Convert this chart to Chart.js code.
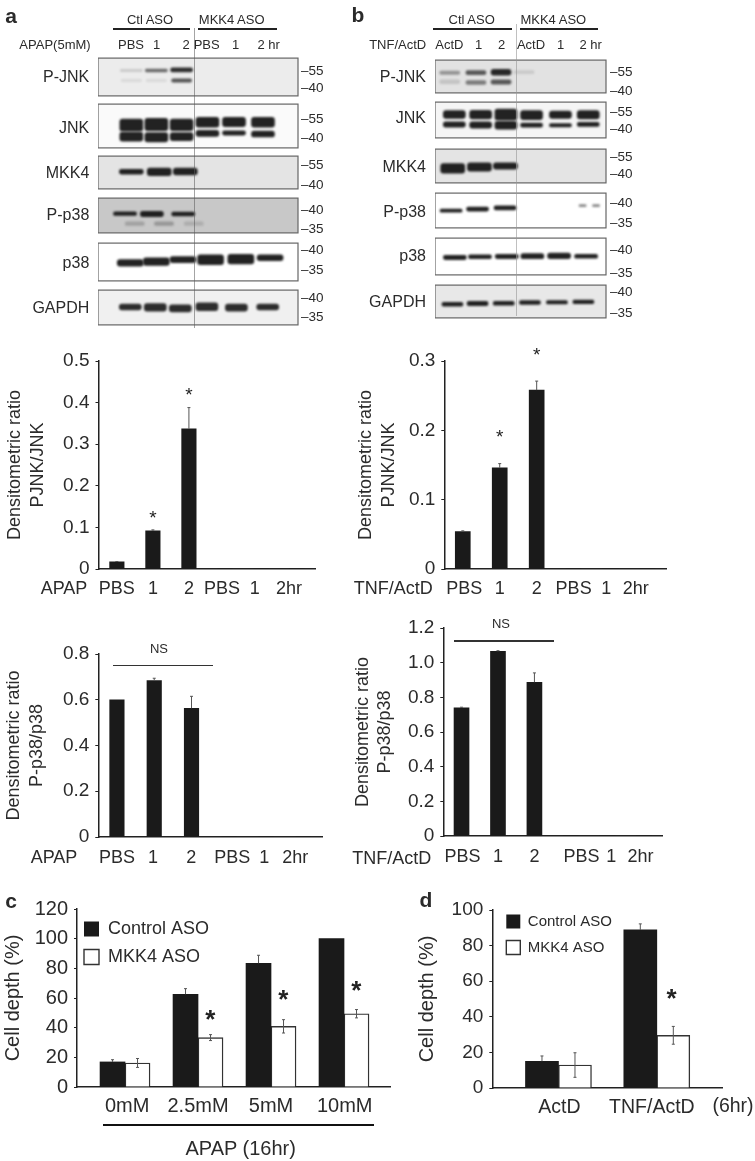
<!DOCTYPE html>
<html>
<head>
<meta charset="utf-8">
<title>MKK4 ASO blots and densitometry</title>
<script src="https://cdn.jsdelivr.net/npm/chart.js@4"></script>
<style>
  body { margin: 0; background: #fff; width: 755px; height: 1161px; position: relative; overflow: hidden; font-family: "Liberation Sans", sans-serif; }
  canvas { position: absolute; filter: blur(0.35px); }
  .lbl { position: absolute; white-space: nowrap; color: #2b2b2b; line-height: 1; transform: translate(-50%, -50%); filter: blur(0.3px); }
  .lbl.right { transform: translate(-100%, -50%); }
  .rule { position: absolute; }
</style>
</head>
<body>
<script>
// ---- densitometry bars ----
const pjnkApapValues = [0.017, 0.092, 0.337, 0, 0, 0];
const pjnkApapErrors = [0.001, 0.002, 0.051, 0, 0, 0];
const pjnkApapStars = [null, 0.127, 0.423, null, null, null];
const pjnkTnfValues = [0.054, 0.146, 0.258, 0, 0, 0];
const pjnkTnfErrors = [0.001, 0.006, 0.013, 0, 0, 0];
const pjnkTnfStars = [null, 0.193, 0.312, null, null, null];
const p38ApapValues = [0.6, 0.684, 0.563, 0, 0, 0];
const p38ApapErrors = [0, 0.01, 0.052, 0, 0, 0];
const p38TnfValues = [0.74, 1.066, 0.887, 0, 0, 0];
const p38TnfErrors = [0.003, 0.003, 0.054, 0, 0, 0];
const apapLabels = ['PBS', '1', '2', 'PBS', '1', '2hr'];

// ---- panel c / d ----
const doseLabels = ['0mM', '2.5mM', '5mM', '10mM'];
const doseControl = [16.9, 62.5, 83.4, 100];
const doseControlErr = [1.5, 3.8, 5.4, 0];
const doseMkk4 = [16.2, 33.3, 40.9, 49.4];
const doseMkk4Err = [3, 2, 4.5, 2.8];
const doseStars = [null, 47.4, 60.7, 66.7];
const tnfLabels = ['ActD', 'TNF/ActD'];
const tnfControl = [15, 88.8];
const tnfControlErr = [3, 3.4];
const tnfMkk4 = [12.9, 29.6];
const tnfMkk4Err = [6.9, 5];
const tnfStars = [null, 51.7];

// ---- blot bands, kDa range per lane and density ----
const lanesA = [0, 0.95, 1.91, 2.89, 3.9, 5];
const aPjnkUpper = [[56.3, 54.7], [56.8, 54.2], [57.8, 54.2]];
const aPjnkUpperD = [0.18, 0.6, 0.88];
const aPjnkLower = [[47.5, 46], [47.5, 46], [48.3, 45.2]];
const aPjnkLowerD = [0.1, 0.1, 0.7];
const aJnkUpper = [[55.5, 46], [56, 46.4], [55.5, 46.4], [56.7, 49], [56.7, 49.5], [56.7, 49]];
const aJnkLower = [[45.2, 38.1], [44.8, 37.6], [44.8, 38.6], [46.7, 41.9], [46.2, 42.9], [46, 41.4]];
const aMkk4Lanes = [0, 1.06, 2.05];
const aMkk4 = [[52.1, 48.5], [53.2, 47.2], [53.2, 47.8]];
const aPp38Lanes = [-0.24, 0.78, 1.97];
const aPp38 = [[39.7, 38.7], [39.8, 38.4], [39.6, 38.6]];
const aPp38FaintLanes = [0.13, 1.24, 2.37];
const aPp38Faint = [[37, 36], [37, 36], [37, 36]];
const aPp38FaintD = [0.22, 0.28, 0.15];
const aP38Lanes = [-0.04, 0.95, 1.96, 3.01, 4.16, 5.27];
const aP38 = [[37.8, 36.1], [38.2, 36.3], [38.5, 37], [39, 36.5], [39.1, 36.7], [39, 37.5]];
const aGapdhLanes = [-0.04, 0.91, 1.86, 2.87, 3.99, 5.18];
const aGapdh = [[38.5, 37], [38.6, 36.7], [38.3, 36.5], [38.8, 36.8], [38.5, 36.7], [38.5, 37]];

const lanesB = [0, 0.975, 1.91, 2.86, 3.93, 4.96];
const bPjnkLanes = [-0.17, 0.8, 1.73, 2.58];
const bPjnkUpper = [[55.7, 53], [56.1, 52.8], [57, 52.4], [56.1, 53.5]];
const bPjnkUpperD = [0.38, 0.68, 0.92, 0.12];
const bPjnkLower = [[48.8, 45.7], [48.2, 45.1], [48.8, 45.3]];
const bPjnkLowerD = [0.15, 0.5, 0.68];
const bJnkUpper = [[56.75, 49.75], [57, 49.25], [58, 48.25], [56.75, 48.75], [56.25, 49.75], [56.75, 49.25]];
const bJnkLower = [[46.75, 42], [46.75, 41.25], [47.25, 40.25], [45.75, 42], [45.25, 42.25], [46.25, 42.75]];
const bMkk4Lanes = [-0.06, 0.93, 1.89];
const bMkk4 = [[49.4, 41.2], [49.9, 42.9], [49.9, 44.6]];
const bPp38Lanes = [-0.12, 0.86, 1.88];
const bPp38 = [[38.5, 37.7], [39, 38], [39.3, 38.3]];
const bPp38DashLanes = [4.75, 5.25];
const bPp38Dash = [[39.6, 39.1], [39.6, 39.1]];
const bP38Lanes = [0.02, 0.95, 1.94, 2.89, 3.88, 4.88];
const bP38 = [[38.9, 38], [39, 38.2], [39.1, 38.2], [39.3, 38.2], [39.4, 38.2], [39.1, 38.3]];
const bGapdhLanes = [-0.07, 0.86, 1.83, 2.8, 3.8, 4.78];
const bGapdh = [[37.7, 36.8], [37.9, 36.9], [37.9, 37], [38.1, 37.2], [38.1, 37.3], [38.2, 37.4]];

const INK = '#2b2b2b';
const FONT = '"Liberation Sans", sans-serif';
Chart.defaults.animation = false;
Chart.defaults.font.family = FONT;
Chart.defaults.color = INK;

function addCanvas(left, top, width, height) {
  const c = document.createElement('canvas');
  c.width = width;
  c.height = height;
  c.style.left = left + 'px';
  c.style.top = top + 'px';
  document.body.appendChild(c);
  return c;
}

function label(str, x, y, size, opts = {}) {
  const el = document.createElement('div');
  el.className = 'lbl' + (opts.right ? ' right' : '');
  el.textContent = str;
  el.style.left = x + 'px';
  el.style.top = y + 'px';
  el.style.fontSize = size + 'px';
  if (opts.bold) el.style.fontWeight = 'bold';
  document.body.appendChild(el);
}

function rule(x1, y1, x2, y2, color, w) {
  const el = document.createElement('div');
  el.className = 'rule';
  el.style.left = x1 + 'px';
  el.style.top = (y1 - w / 2) + 'px';
  el.style.width = Math.max(x2 - x1, w) + 'px';
  el.style.height = Math.max(y2 - y1, w) + 'px';
  el.style.background = color;
  document.body.appendChild(el);
}

const errorBars = {
  id: 'errorBars',
  afterDatasetsDraw(chart) {
    const { ctx } = chart;
    const y = chart.scales.y;
    chart.data.datasets.forEach((ds, i) => {
      if (!ds.errors) return;
      chart.getDatasetMeta(i).data.forEach((bar, k) => {
        const e = ds.errors[k];
        if (!e) return;
        const v = ds.data[k].y;
        const hi = y.getPixelForValue(v + e);
        const lo = ds.errorsBelow ? y.getPixelForValue(v - e) : bar.y;
        ctx.save();
        ctx.strokeStyle = '#555';
        ctx.lineWidth = 1;
        ctx.beginPath();
        ctx.moveTo(bar.x, hi);
        ctx.lineTo(bar.x, lo);
        ctx.moveTo(bar.x - 1.5, hi);
        ctx.lineTo(bar.x + 1.5, hi);
        if (ds.errorsBelow) {
          ctx.moveTo(bar.x - 1.5, lo);
          ctx.lineTo(bar.x + 1.5, lo);
        }
        ctx.stroke();
        ctx.restore();
      });
    });
  }
};

const starMarks = {
  id: 'starMarks',
  afterDraw(chart, args, opts) {
    if (!opts.levels) return;
    const { ctx, scales } = chart;
    ctx.save();
    ctx.font = opts.font;
    ctx.fillStyle = '#222';
    ctx.textAlign = 'center';
    ctx.textBaseline = 'alphabetic';
    opts.levels.forEach((lvl, i) => {
      if (lvl === null) return;
      ctx.fillText('*', scales.x.getPixelForValue(i + opts.shift), scales.y.getPixelForValue(lvl) + opts.size * 0.42);
    });
    ctx.restore();
  }
};

const legendNudge = {
  id: 'legendNudge',
  afterLayout(chart, args, opts) {
    if (!opts.dx && !opts.dy) return;
    chart.legend.left += opts.dx;
    chart.legend.top += opts.dy;
  }
};

// bars on a linear x axis so tick labels can sit where the figure put them
function barChart(cfg) {
  const { plot, originX } = cfg;
  const top = plot.t - 24;
  const bottom = plot.b + 36;
  const right = Math.min(plot.r + 12, 755);
  const canvas = addCanvas(originX, top, right - originX, bottom - top);
  return new Chart(canvas, {
    type: 'bar',
    data: { datasets: cfg.datasets },
    options: {
      responsive: false,
      layout: { padding: { left: 0, top: plot.t - top, right: right - plot.r, bottom: 0 } },
      plugins: {
        legend: cfg.legend || { display: false },
        tooltip: { enabled: false },
        starMarks: cfg.stars || {},
        legendNudge: cfg.nudge || {}
      },
      scales: {
        x: {
          type: 'linear',
          offset: false,
          min: cfg.xMin,
          max: cfg.xMax,
          grid: { display: false, offset: false },
          border: { color: '#222', width: 1.5 },
          afterBuildTicks: ax => { ax.ticks = cfg.tickAt.map(value => ({ value })); },
          afterFit: ax => { ax.height = bottom - plot.b; },
          ticks: {
            autoSkip: false,
            maxRotation: 0,
            padding: cfg.xPad,
            font: { size: cfg.xFont },
            color: INK,
            callback: (v, i) => cfg.labels[i]
          }
        },
        y: {
          min: 0,
          max: cfg.yMax,
          grid: { display: true, drawOnChartArea: false, drawTicks: true, tickLength: 3, color: '#222' },
          border: { color: '#222', width: 1.5 },
          afterFit: ax => { ax.width = plot.l - originX; },
          ticks: {
            stepSize: cfg.yStep,
            padding: 6,
            font: { size: cfg.yFont },
            color: INK,
            callback: cfg.yFormat
          },
          title: {
            display: true,
            text: cfg.title,
            font: { size: cfg.titleFont, lineHeight: cfg.titleLine },
            color: INK,
            padding: { top: cfg.titlePad, bottom: 0 }
          }
        }
      }
    },
    plugins: [errorBars, starMarks, legendNudge]
  });
}

function singleSeries(values, errors, width) {
  return [{
    data: values.map((y, x) => ({ x, y })),
    errors,
    backgroundColor: '#1a1a1a',
    barThickness: width
  }];
}

const oneDecimal = v => (v === 0 ? '0' : v.toFixed(1));

barChart({
  originX: 0, plot: { l: 98.5, t: 361, r: 315, b: 569 },
  xMin: -0.51, xMax: 5.5, tickAt: [0, 1, 2, 2.92, 3.83, 4.78], labels: apapLabels,
  xPad: 1, xFont: 18, yMax: 0.5, yStep: 0.1, yFont: 19, yFormat: oneDecimal,
  title: ['Densitometric ratio', 'PJNK/JNK'], titleFont: 18, titleLine: 1.28, titlePad: 3.5,
  datasets: singleSeries(pjnkApapValues, pjnkApapErrors, 14.5),
  stars: { levels: pjnkApapStars, font: '19px ' + FONT, size: 19, shift: 0 }
});
barChart({
  originX: 350, plot: { l: 444.3, t: 361, r: 666, b: 569 },
  xMin: -0.5, xMax: 5.5, tickAt: [0.04, 1, 2, 3, 3.88, 4.68], labels: apapLabels,
  xPad: 1, xFont: 18, yMax: 0.3, yStep: 0.1, yFont: 19, yFormat: oneDecimal,
  title: ['Densitometric ratio', 'PJNK/JNK'], titleFont: 18, titleLine: 1.28, titlePad: 4.5,
  datasets: singleSeries(pjnkTnfValues, pjnkTnfErrors, 15),
  stars: { levels: pjnkTnfStars, font: '19px ' + FONT, size: 19, shift: 0 }
});
barChart({
  originX: 0, plot: { l: 98.3, t: 654.3, r: 322, b: 837.7 },
  xMin: -0.5, xMax: 5.5, tickAt: [0, 0.97, 1.99, 3.09, 3.95, 4.78], labels: apapLabels,
  xPad: 2, xFont: 18, yMax: 0.8, yStep: 0.2, yFont: 19, yFormat: oneDecimal,
  title: ['Densitometric ratio', 'P-p38/p38'], titleFont: 18, titleLine: 1.28, titlePad: 2.5,
  datasets: singleSeries(p38ApapValues, p38ApapErrors, 14.5)
});
barChart({
  originX: 350, plot: { l: 443.3, t: 628.3, r: 662.3, b: 837 },
  xMin: -0.5, xMax: 5.5, tickAt: [0.03, 1, 2, 3.29, 4.11, 4.91], labels: apapLabels,
  xPad: 2, xFont: 18, yMax: 1.2, yStep: 0.2, yFont: 19, yFormat: oneDecimal,
  title: ['Densitometric ratio', 'P-p38/p38'], titleFont: 18, titleLine: 1.22, titlePad: 2,
  datasets: singleSeries(p38TnfValues, p38TnfErrors, 15)
});

function groupedSeries(values, errors, name, fill, stroke, below, width) {
  return {
    label: name,
    data: values.map((y, x) => ({ x, y })),
    errors,
    errorsBelow: below,
    backgroundColor: fill,
    borderColor: stroke,
    borderWidth: fill === '#fff' ? 1.4 : 0,
    borderSkipped: 'bottom',
    barThickness: width
  };
}

barChart({
  originX: 0, plot: { l: 77, t: 909, r: 390, b: 1087 },
  xMin: -0.658, xMax: 3.63, tickAt: [0.03, 1, 2, 3.01], labels: doseLabels,
  xPad: -1, xFont: 20, yMax: 120, yStep: 20, yFont: 20, yFormat: v => String(v),
  title: 'Cell depth (%)', titleFont: 20, titleLine: 1.2, titlePad: 1,
  datasets: [
    groupedSeries(doseControl, doseControlErr, 'Control ASO', '#1a1a1a', '#1a1a1a', false, 25),
    groupedSeries(doseMkk4, doseMkk4Err, 'MKK4 ASO', '#fff', '#333', true, 25)
  ],
  legend: { position: 'chartArea', align: 'start', labels: { boxWidth: 15, boxHeight: 15, padding: 10, font: { size: 18 }, color: INK } },
  nudge: { dx: -3, dy: 25 },
  stars: { levels: doseStars, font: 'bold 26px ' + FONT, size: 26, shift: 0.17 }
});
barChart({
  originX: 400, plot: { l: 492.3, t: 910, r: 722.7, b: 1088 },
  xMin: -0.673, xMax: 1.663, tickAt: [0.01, 0.95], labels: tnfLabels,
  xPad: 0, xFont: 19.5, yMax: 100, yStep: 20, yFont: 19, yFormat: v => String(v),
  title: 'Cell depth (%)', titleFont: 20, titleLine: 1.2, titlePad: 15.5,
  datasets: [
    groupedSeries(tnfControl, tnfControlErr, 'Control ASO', '#1a1a1a', '#1a1a1a', false, 33),
    groupedSeries(tnfMkk4, tnfMkk4Err, 'MKK4 ASO', '#fff', '#333', true, 33)
  ],
  legend: { position: 'chartArea', align: 'start', labels: { boxWidth: 14, boxHeight: 14, padding: 11, font: { size: 15 }, color: INK } },
  nudge: { dx: 3, dy: 17 },
  stars: { levels: tnfStars, font: 'bold 26px ' + FONT, size: 26, shift: 0.15 }
});

// ---- western blot strips ----
const stripLook = {
  id: 'stripLook',
  beforeDraw(chart, args, opts) {
    const { ctx, chartArea: a } = chart;
    ctx.save();
    ctx.fillStyle = opts.bg;
    ctx.fillRect(a.left, a.top, a.width, a.height);
    ctx.restore();
  },
  beforeDatasetsDraw(chart) { chart.ctx.save(); chart.ctx.filter = 'blur(1.1px)'; },
  afterDatasetsDraw(chart) { chart.ctx.restore(); },
  afterDraw(chart) {
    const { ctx, chartArea: a } = chart;
    ctx.save();
    ctx.strokeStyle = '#666';
    ctx.lineWidth = 1.2;
    ctx.strokeRect(a.left, a.top, a.width, a.height);
    ctx.restore();
  }
};

function band(lanes, ranges, density, width) {
  return {
    data: ranges.map((y, i) => ({ x: lanes[i], y })),
    backgroundColor: ranges.map((r, i) => `rgba(22,22,22,${density ? density[i] : 0.95})`),
    barThickness: width,
    borderRadius: 3,
    borderSkipped: false,
    grouped: false
  };
}

function strip(frame, s) {
  const margin = 9;
  const left = frame.l;
  const right = frame.r + 30;
  const top = s.t - margin;
  const height = s.b - s.t + margin * 2;
  const canvas = addCanvas(left, top, right - left, height);
  const perPx = (s.kda[0] - s.kda[1]) / (s.tickY[1] - s.tickY[0]);
  new Chart(canvas, {
    type: 'bar',
    data: { datasets: s.bands },
    options: {
      responsive: false,
      layout: { padding: { left: 0, top: margin, right: 0, bottom: margin } },
      plugins: { legend: { display: false }, tooltip: { enabled: false }, stripLook: { bg: s.bg } },
      scales: {
        x: { type: 'linear', display: false, offset: false, min: frame.xMin, max: frame.xMax, grid: { offset: false } },
        y: {
          position: 'right',
          min: s.kda[1] - (s.b - s.tickY[1]) * perPx,
          max: s.kda[0] + (s.tickY[0] - s.t) * perPx,
          grid: { display: false, drawTicks: false },
          border: { display: false },
          afterBuildTicks: ax => { ax.ticks = s.kda.map(value => ({ value })); },
          afterFit: ax => { ax.width = 30; },
          ticks: { padding: frame.tickPad, font: { size: 13.5 }, color: INK, callback: v => '\u2013' + v }
        }
      }
    },
    plugins: [stripLook]
  });
}

const frameA = { l: 97.7, r: 297.7, xMin: -1.266, xMax: 6.33, tickPad: 3 };
const frameB = { l: 435, r: 606, xMin: -0.716, xMax: 5.617, tickPad: 4 };

strip(frameA, { t: 56, b: 98.7, tickY: [70.7, 90], kda: [55, 40], bg: '#ececec', bands: [
  band(lanesA, aPjnkUpper, aPjnkUpperD, 22), band(lanesA, aPjnkLower, aPjnkLowerD, 20)] });
strip(frameA, { t: 102, b: 150, tickY: [119, 140], kda: [55, 40], bg: '#fafafa', bands: [
  band(lanesA, aJnkUpper, null, 23), band(lanesA, aJnkLower, null, 23)] });
strip(frameA, { t: 154, b: 191.7, tickY: [165, 187.3], kda: [55, 40], bg: '#e4e4e4', bands: [
  band(aMkk4Lanes, aMkk4, null, 24)] });
strip(frameA, { t: 195.7, b: 235.3, tickY: [210, 231], kda: [40, 35], bg: '#c8c8c8', bands: [
  band(aPp38Lanes, aPp38, null, 23), band(aPp38FaintLanes, aPp38Faint, aPp38FaintD, 19)] });
strip(frameA, { t: 240.7, b: 283.3, tickY: [249.3, 271.7], kda: [40, 35], bg: '#ffffff', bands: [
  band(aP38Lanes, aP38, null, 26)] });
strip(frameA, { t: 288.3, b: 327.3, tickY: [297.3, 319.3], kda: [40, 35], bg: '#f0f0f0', bands: [
  band(aGapdhLanes, aGapdh, [0.9, 0.9, 0.9, 0.9, 0.9, 0.9], 22)] });

strip(frameB, { t: 56.7, b: 95.7, tickY: [70.7, 93.3], kda: [55, 40], bg: '#e2e2e2', bands: [
  band(bPjnkLanes, bPjnkUpper, bPjnkUpperD, 20), band(bPjnkLanes, bPjnkLower, bPjnkLowerD, 20)] });
strip(frameB, { t: 99.3, b: 141.7, tickY: [111.7, 131.7], kda: [55, 40], bg: '#f5f5f5', bands: [
  band(lanesB, bJnkUpper, null, 22), band(lanesB, bJnkLower, null, 22)] });
strip(frameB, { t: 145.7, b: 185.7, tickY: [155, 175.7], kda: [55, 40], bg: '#e4e4e4', bands: [
  band(bMkk4Lanes, bMkk4, null, 24)] });
strip(frameB, { t: 190, b: 231.3, tickY: [201.7, 225.7], kda: [40, 35], bg: '#ffffff', bands: [
  band(bPp38Lanes, bPp38, null, 22), band(bPp38DashLanes, bPp38Dash, [0.5, 0.5], 7)] });
strip(frameB, { t: 235, b: 278.3, tickY: [249.3, 276.7], kda: [40, 35], bg: '#ffffff', bands: [
  band(bP38Lanes, bP38, null, 23)] });
strip(frameB, { t: 282, b: 321.7, tickY: [291, 316.7], kda: [40, 35], bg: '#e8e8e8', bands: [
  band(bGapdhLanes, bGapdh, null, 21)] });

// ---- figure text ----
label('a', 11, 15, 21, { bold: true });
label('b', 358, 14, 21, { bold: true });
label('c', 11, 900, 21, { bold: true });
label('d', 426, 899, 21, { bold: true });

label('Ctl ASO', 150, 19, 13);
label('MKK4 ASO', 231.7, 19, 13);
rule(112.7, 29.3, 190, 29.3, '#222', 2);
rule(198, 29.3, 276.7, 29.3, '#222', 2);
label('APAP(5mM)', 55, 44.3, 13);
[['PBS', 131], ['1', 156.7], ['2', 186], ['PBS', 206.7], ['1', 235.7], ['2 hr', 268.7]].forEach(([t, x]) => label(t, x, 44.3, 13));
[['P-JNK', 77.3], ['JNK', 128.3], ['MKK4', 173.3], ['P-p38', 215], ['p38', 262.7], ['GAPDH', 307.7]].forEach(([t, y]) => label(t, 89.3, y, 16, { right: true }));
rule(193.7, 28, 194.5, 328, 'rgba(90,90,90,0.55)', 0.8);

label('Ctl ASO', 471.7, 19, 13);
label('MKK4 ASO', 553.3, 19, 13);
rule(433.3, 29.3, 512.3, 29.3, '#222', 2);
rule(520, 29.3, 598.3, 29.3, '#222', 2);
label('TNF/ActD', 397.7, 44, 13);
[['ActD', 449.3], ['1', 478.7], ['2', 501.7], ['ActD', 531], ['1', 560.7], ['2 hr', 590.7]].forEach(([t, x]) => label(t, x, 44, 13));
[['P-JNK', 76.7], ['JNK', 118.3], ['MKK4', 167.3], ['P-p38', 211.7], ['p38', 255.7], ['GAPDH', 301.7]].forEach(([t, y]) => label(t, 426, y, 16, { right: true }));
rule(515.5, 25, 517, 317, 'rgba(150,150,150,0.6)', 1.5);

label('APAP', 64, 588, 18);
label('TNF/ActD', 393.3, 588, 18);
label('APAP', 54, 857, 18);
label('TNF/ActD', 391.7, 857.7, 18);
label('NS', 159, 648, 13);
label('NS', 501, 623.3, 13);
rule(113, 665.7, 213, 665.7, '#333', 1.3);
rule(454, 641, 554, 641, '#333', 1.3);

rule(102.7, 1125, 374, 1125, '#111', 2.5);
label('APAP (16hr)', 240.7, 1147.7, 20);
label('(6hr)', 733, 1106, 19.5);
</script>
</body>
</html>
